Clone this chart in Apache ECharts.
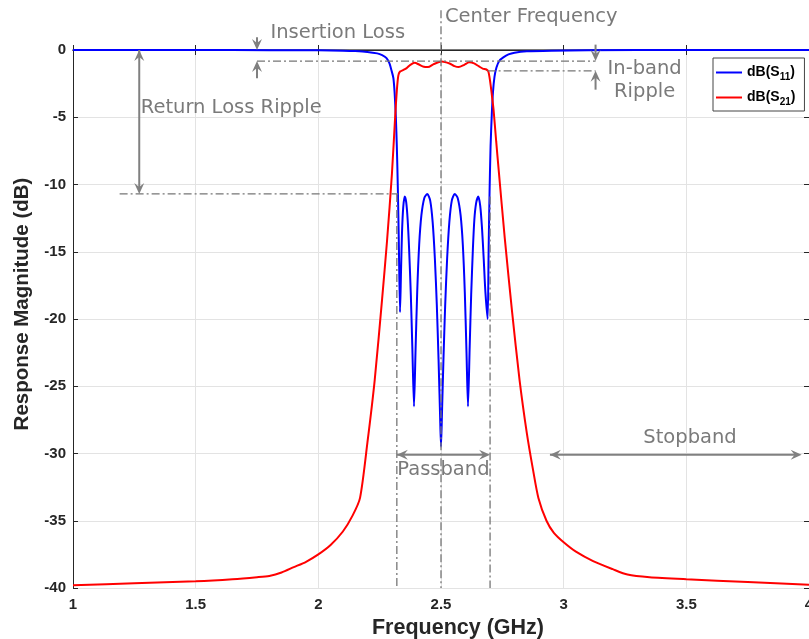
<!DOCTYPE html>
<html><head><meta charset="utf-8">
<script src="https://cdn.jsdelivr.net/npm/echarts/dist/echarts.min.js"></script>
<style>html,body{margin:0;padding:0;background:#fff;overflow:hidden}#c{position:absolute;left:0;top:0;width:809px;height:639px}</style>
</head><body><div id="c"></div>
<script>
// ---- data (GHz, dB) ----
const xTickLabels = ['1','1.5','2','2.5','3','3.5','4'];
const yTickLabels = ['-40','-35','-30','-25','-20','-15','-10','-5','0'];

const s11Freq = [1.00,1.50,1.80,2.00,2.10,2.15,2.20,2.24,2.26,2.278,2.29,2.298,2.306,2.311,2.316,2.320,2.324,2.328,2.333,
  2.337,2.341,2.346,2.352,2.358,2.364,2.370,2.377,2.383,2.390,2.396,2.403,2.411,2.420,2.432,2.444,2.456,2.466,2.475,2.483,2.490,2.496,2.500,
  2.504,2.510,2.517,2.525,2.534,2.544,2.556,2.568,2.580,2.589,2.597,2.604,2.610,2.617,2.623,2.630,2.636,2.643,2.652,2.660,2.667,2.674,2.681,2.690,
  2.694,2.698,2.702,2.707,2.712,2.718,2.726,2.738,2.754,2.775,2.80,2.85,2.95,3.10,3.50,4.00];
const s11dB = [0,0,-0.01,-0.02,-0.05,-0.08,-0.14,-0.25,-0.38,-0.6,-1.0,-1.5,-2.1,-3.2,-5.0,-7.2,-10.2,-14.2,-19.5,
  -16.5,-13.6,-11.7,-10.9,-11.3,-12.6,-14.8,-18.2,-22.0,-26.5,-22.5,-18.0,-14.5,-12.3,-11.0,-10.7,-11.2,-12.8,-15.5,-19.0,-23.0,-27.0,-29.5,
  -27.0,-23.0,-19.0,-15.5,-12.8,-11.2,-10.7,-11.0,-12.3,-14.5,-18.0,-22.5,-26.5,-22.0,-18.2,-14.8,-12.6,-11.4,-10.9,-11.6,-13.2,-15.5,-18.0,-20.0,
  -15.0,-10.5,-7.2,-4.8,-3.1,-2.0,-1.3,-0.8,-0.55,-0.33,-0.2,-0.1,-0.05,-0.02,0,0];

const s21Freq = [1.00,1.25,1.50,1.65,1.75,1.80,1.85,1.90,1.95,2.00,2.05,2.10,2.14,2.17,2.20,2.23,2.26,2.28,2.30,2.313,2.320,2.326,2.333,
  2.345,2.360,2.375,2.393,2.410,2.430,2.447,2.470,2.503,2.535,2.555,2.572,2.595,2.615,2.635,2.655,2.670,2.685,2.693,
  2.700,2.707,2.714,2.725,2.735,2.760,2.790,2.820,2.850,2.875,2.897,2.930,2.960,3.000,3.050,3.120,3.200,3.260,3.350,3.500,3.750,4.000];
const s21dB = [-39.8,-39.65,-39.5,-39.35,-39.2,-39.1,-38.85,-38.45,-38.05,-37.5,-36.8,-35.8,-34.6,-33.3,-29.2,-24.5,-18.5,-14.2,-9.2,-5.0,-3.0,-1.9,-1.6,
  -1.5,-1.35,-1.1,-0.95,-1.08,-1.25,-1.27,-1.05,-0.85,-1.0,-1.2,-1.27,-1.1,-0.92,-1.0,-1.22,-1.38,-1.45,-1.6,
  -2.3,-3.3,-4.4,-6.8,-8.9,-14.0,-19.5,-24.5,-28.5,-31.2,-33.3,-35.0,-35.9,-36.6,-37.3,-38.0,-38.6,-39.0,-39.2,-39.35,-39.55,-39.75];

const zip = (a, b) => a.map((v, i) => [v, b[i]]);

const chart = echarts.init(document.getElementById('c'), null, {renderer: 'canvas', width: 809, height: 639});
const tickFont = {fontFamily: '"Liberation Sans", Arial, sans-serif', fontWeight: 'bold', fontSize: 15, color: '#262626'};
const option = {
  animation: false,
  backgroundColor: '#fff',
  grid: {left: 73, right: 0, top: 50, bottom: 51, containLabel: false, outerBoundsMode: 'none'},
  legend: {
    orient: 'vertical', left: 713, top: 58, z: 20,
    backgroundColor: '#fff', borderColor: '#444', borderWidth: 1,
    padding: [5, 9, 4, 3], itemGap: 6, itemWidth: 26, itemHeight: 2, icon: 'rect',
    formatter: n => n === 'S11' ? '{b|dB(S}{s|11}{b|)}' : '{b|dB(S}{s|21}{b|)}',
    textStyle: {
      rich: {
        b: {fontFamily: '"Liberation Sans", Arial, sans-serif', fontWeight: 'bold', fontSize: 14, color: '#000', lineHeight: 19, verticalAlign: 'middle'},
        s: {fontFamily: '"Liberation Sans", Arial, sans-serif', fontWeight: 'bold', fontSize: 10, color: '#000', lineHeight: 19, verticalAlign: 'bottom', padding: [9, 0, 0, 0]}
      }
    },
    data: ['S11', 'S21']
  },
  xAxis: [{
    type: 'value', position: 'bottom', min: 1, max: 4, interval: 0.5,
    name: 'Frequency (GHz)', nameLocation: 'middle', nameGap: 29,
    nameTextStyle: {fontFamily: '"Liberation Sans", Arial, sans-serif', fontWeight: 'bold', fontSize: 21.5, color: '#262626', padding: [0, 0, 0, 34]},
    axisLine: {show: true, lineStyle: {color: '#4d4d4d', width: 1.5}},
    axisTick: {show: true, inside: true, length: 5, lineStyle: {color: '#262626'}},
    axisLabel: Object.assign({margin: 9, formatter: (v) => xTickLabels[Math.round((v - 1) / 0.5)] ?? ''}, tickFont),
    splitLine: {show: true, lineStyle: {color: '#e3e3e3', width: 1}}
  }, {
    type: 'value', position: 'top', min: 1, max: 4, interval: 0.5,
    axisLine: {show: true, onZero: false, lineStyle: {color: '#262626', width: 1}},
    axisTick: {show: true, inside: true, length: 5, lineStyle: {color: '#262626'}},
    axisLabel: {show: false}, splitLine: {show: false}
  }],
  yAxis: [{
    type: 'value', position: 'left', min: -40, max: 0, interval: 5,
    name: 'Response Magnitude (dB)', nameLocation: 'middle', nameGap: 40,
    nameTextStyle: {fontFamily: '"Liberation Sans", Arial, sans-serif', fontWeight: 'bold', fontSize: 20.5, color: '#262626', padding: [0, 0, 0, 30]},
    axisLine: {show: true, onZero: false, lineStyle: {color: '#262626', width: 1}},
    axisTick: {show: true, inside: true, length: 5, lineStyle: {color: '#262626'}},
    axisLabel: Object.assign({margin: 7, formatter: (v) => yTickLabels[Math.round((v + 40) / 5)] ?? ''}, tickFont),
    splitLine: {show: true, lineStyle: {color: '#e3e3e3', width: 1}}
  }, {
    type: 'value', position: 'right', min: -40, max: 0, interval: 5,
    axisLine: {show: false}, axisLabel: {show: false}, splitLine: {show: false},
    axisTick: {show: true, inside: true, length: 5, lineStyle: {color: '#262626'}}
  }],
  series: [{
    name: 'S11', type: 'line', xAxisIndex: 0, yAxisIndex: 0, showSymbol: false, symbol: 'none', clip: false,
    smooth: 0.25, lineStyle: {color: '#0000ff', width: 2}, itemStyle: {color: '#0000ff'},
    data: zip(s11Freq, s11dB), z: 3
  }, {
    name: 'S21', type: 'line', xAxisIndex: 0, yAxisIndex: 0, showSymbol: false, symbol: 'none', clip: false,
    smooth: 0.25, lineStyle: {color: '#ff0000', width: 2}, itemStyle: {color: '#ff0000'},
    data: zip(s21Freq, s21dB), z: 4
  }]
};
chart.setOption(option);

// ---- annotations (defined in data units) ----
const P = (x, y) => chart.convertToPixel({seriesIndex: 0}, [x, y]);
const GRAY = '#808080';
const els = [];
function dash(x1, y1, x2, y2) {
  const a = P(x1, y1), b = P(x2, y2);
  els.push({type: 'line', z: 10, shape: {x1: a[0], y1: a[1], x2: b[0], y2: b[1]},
    style: {stroke: '#767676', lineWidth: 1.3, lineDash: [8, 3, 2, 3]}});
}
function head(tip, dx, dy) {
  const L = 11, W = 5, N = 4, nx = -dy, ny = dx;
  els.push({type: 'polygon', z: 11, shape: {points: [
    [tip[0], tip[1]],
    [tip[0] - dx * L + nx * W, tip[1] - dy * L + ny * W],
    [tip[0] - dx * (L - N), tip[1] - dy * (L - N)],
    [tip[0] - dx * L - nx * W, tip[1] - dy * L - ny * W]]}, style: {fill: GRAY}});
}
function arrow(x1, y1, x2, y2, both) {
  const a = P(x1, y1), b = P(x2, y2);
  const len = Math.hypot(b[0] - a[0], b[1] - a[1]);
  const dx = (b[0] - a[0]) / len, dy = (b[1] - a[1]) / len;
  els.push({type: 'line', z: 11, shape: {x1: a[0], y1: a[1], x2: b[0] - dx * 6, y2: b[1] - dy * 6},
    style: {stroke: GRAY, lineWidth: 2}});
  head(b, dx, dy);
  if (both) head(a, -dx, -dy);
}
function label(text, x, y, align, ox) {
  const p = P(x, y);
  els.push({type: 'text', z: 12, x: p[0] + (ox || 0), y: p[1],
    style: {text, fill: '#7a7a7a', fontSize: 19.5, fontFamily: '"DejaVu Sans", Verdana, sans-serif',
      align: align, verticalAlign: 'middle', textAlign: align, textVerticalAlign: 'middle'}});
}
// center frequency
dash(2.5, 2.95, 2.5, -40);
label('Center Frequency', 2.5, 2.45, 'left', 4);
// insertion loss
dash(1.75, -0.82, 3.13, -0.82);
arrow(1.75, 0.95, 1.75, 0);
arrow(1.75, -2.1, 1.75, -0.82);
label('Insertion Loss', 1.805, 1.25, 'left');
// in-band ripple
dash(2.69, -1.55, 3.13, -1.55);
arrow(3.13, 0.4, 3.13, -0.82);
arrow(3.13, -2.95, 3.13, -1.55);
label('In-band', 3.33, -1.4, 'center');
label('Ripple', 3.33, -3.1, 'center');
// return loss ripple
dash(1.19, -10.7, 2.325, -10.7);
arrow(1.27, 0, 1.27, -10.7, true);
label('Return Loss Ripple', 1.276, -4.3, 'left');
// passband
dash(2.32, -10.7, 2.32, -40);
dash(2.70, -10.9, 2.70, -40);
arrow(2.32, -30.1, 2.70, -30.1, true);
label('Passband', 2.51, -31.25, 'center');
// stopband
arrow(2.944, -30.1, 3.97, -30.1, true);
label('Stopband', 3.515, -28.85, 'center');

chart.setOption({graphic: {elements: els}});
</script>
</body></html>
